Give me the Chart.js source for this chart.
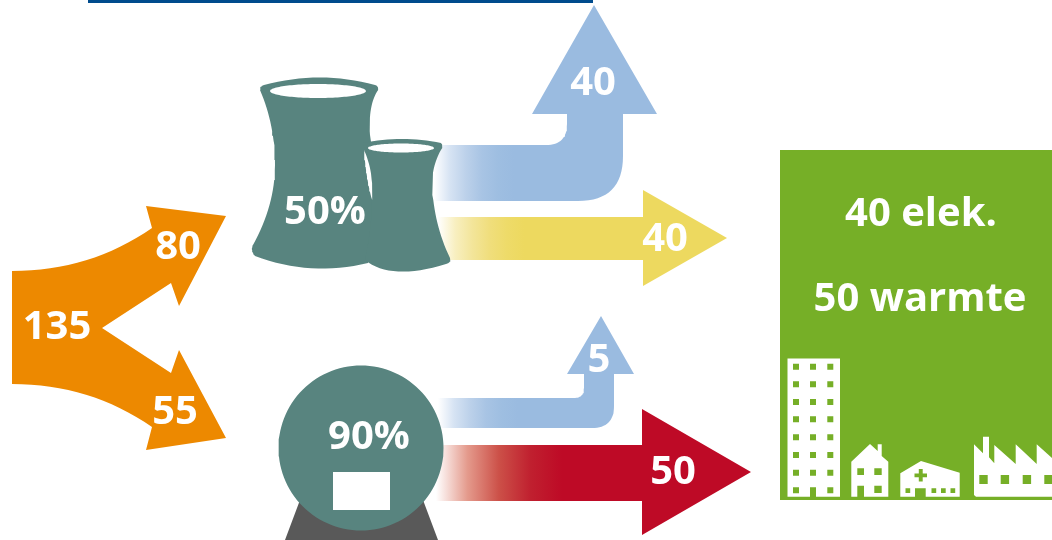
<!DOCTYPE html>
<html>
<head>
<meta charset="utf-8">
<style>
  html, body { margin: 0; background: #fff; }
  canvas { display: block; }
</style>
<script src="https://cdn.jsdelivr.net/npm/chart.js@4"></script>
</head>
<body>
<canvas id="flowChart" width="1052" height="540"></canvas>
<script>
// Energy flows, in units
const fuelTotal = [135];
const fuelSplit = [80, 55];
const plantEfficiency = [50, 90];
const plantOutput = [40, 40];
const boilerOutput = [5, 50];
const deliveredValues = [40, 50];
const deliveredNames = ['elek.', 'warmte'];

const ORANGE = '#ED8900';
const TEAL = '#58847F';
const BLUE = '#9ABBE0';
const YELLOW = '#EDD95F';
const RED = '#BE0A26';
const GREEN = '#76AF27';
const NAVY = '#004B8D';
const WHITE = '#FFFFFF';

const ctx = document.getElementById('flowChart').getContext('2d');

function fade(x0, x1, stops) {
    const g = ctx.createLinearGradient(x0, 0, x1, 0);
    stops.forEach((c, i) => g.addColorStop(i / (stops.length - 1), c));
    return g;
}

// A path step is [x, y] for a straight piece or [cx, cy, x, y] for a quadratic curve
function path(...steps) {
    const pts = [];
    steps.forEach(s => {
        if (s.length === 2) {
            pts.push({x: s[0], y: s[1]});
            return;
        }
        const p = pts[pts.length - 1];
        for (let i = 1; i <= 16; i++) {
            const t = i / 16, u = 1 - t;
            pts.push({
                x: u * u * p.x + 2 * u * t * s[0] + t * t * s[2],
                y: u * u * p.y + 2 * u * t * s[1] + t * t * s[3]
            });
        }
    });
    return pts;
}

function ellipse(cx, cy, rx, ry) {
    const pts = [];
    for (let i = 0; i < 120; i++) {
        const a = i / 120 * Math.PI * 2;
        pts.push({x: cx + rx * Math.cos(a), y: cy + ry * Math.sin(a)});
    }
    return pts;
}

function rect(x0, y0, x1, y1) {
    return path([x0, y0], [x1, y0], [x1, y1], [x0, y1]);
}

function arrowRight(left, top, bottom, neck, headTop, headBottom, tip) {
    return path([left, top], [neck, top], [neck, headTop], [tip, (headTop + headBottom) / 2],
        [neck, headBottom], [neck, bottom], [left, bottom]);
}

function elbowUp(o) {
    return path([o.left, o.top], [o.inner - o.rIn, o.top], [o.inner, o.top, o.inner, o.top - o.rIn],
        [o.inner, o.headY], [o.headL, o.headY], [o.tipX, o.tipY], [o.headR, o.headY],
        [o.outer, o.headY], [o.outer, o.bottom - o.rOut], [o.outer, o.bottom, o.outer - o.rOut, o.bottom],
        [o.left, o.bottom]);
}

// Everything is a filled line dataset; later entries sit on top of earlier ones
const shapes = [];
function add(points, color) {
    shapes.push({
        data: points,
        backgroundColor: color,
        borderWidth: 0,
        pointRadius: 0,
        tension: 0,
        fill: 'shape'
    });
}

// Rule along the top edge
add(rect(88, 0, 593, 3), NAVY);

// Fuel arrow splitting in two
add(path([12, 271], [90, 271, 152, 228], [146, 206], [226, 216], [179, 306], [171, 283], [102, 328],
    [171, 373], [179, 350], [226, 438], [146, 450], [152, 427], [90, 384, 12, 384]), ORANGE);

// Output arrows of the plant
const blueFade = x0 => fade(x0, x0 + 80, ['#FFFFFF', '#D6E3F3', '#BCD1EA', '#A8C4E4', '#9EBEE1', BLUE]);
add(elbowUp({left: 432, top: 145, bottom: 201, inner: 567, outer: 623, headY: 114, headL: 532, headR: 657,
    tipX: 594, tipY: 5, rIn: 21, rOut: 45}), blueFade(434));
add(arrowRight(436, 217, 260, 643, 190, 286, 727),
    fade(438, 524, ['#FFFFFF', '#F8EFC0', '#F3E59A', '#F0DE7C', '#EEDB69', YELLOW]));

// Output arrows of the boiler
add(elbowUp({left: 436, top: 398, bottom: 428, inner: 584, outer: 614, headY: 374, headL: 567, headR: 634,
    tipX: 601, tipY: 316, rIn: 10, rOut: 22}), blueFade(438));
add(arrowRight(434, 445, 501, 642, 409, 535, 751), fade(436, 562, ['#FFFFFF', '#E49A8C', '#CC5048', '#C0202F', RED]));

// Cooling towers
add(path([260, 90], [260, 86, 264, 85], [320, 70, 375, 85], [379, 86, 378, 90], [368, 105, 370, 135],
    [380, 200, 368, 263], [311, 277, 255, 256], [250, 250, 253, 245], [275, 205, 275, 165], [275, 125, 260, 90]), TEAL);
add(path([363, 143], [402, 135, 441, 143], [443, 144, 442, 148], [432, 165, 432, 185], [434, 225, 450, 258],
    [452, 262, 446, 264], [391, 281, 365, 260], [372, 225, 372, 200], [372, 175, 363, 143]), TEAL);
add(path([364, 150], [374, 172, 372, 200], [366, 178, 364, 150]), WHITE);
add(ellipse(318, 91, 48, 7), WHITE);
add(ellipse(401, 148, 33, 4.5), WHITE);

// Boiler on its stand
add(path([300, 500], [423, 500], [438, 540], [285, 540]), '#595959');
add(ellipse(361, 448, 82.5, 82.5), TEAL);
add(rect(333, 472, 390, 510), WHITE);

// Consumer panel
add(rect(780, 150, 1052, 500), GREEN);

// Apartment block
add(rect(787.5, 358.5, 840, 496.7), WHITE);
[366.7, 384.3, 402, 419.3, 437.3, 455, 472.7, 490.3].forEach(wy => {
    [796, 813, 830.3].forEach(wx => add(rect(wx - 3, wy - 3, wx + 3, wy + 3), GREEN));
});
add(rect(810, 488, 816, 497), GREEN);

// House
add(path([851.3, 461.7], [870, 444], [877.7, 451], [877.7, 444.3], [881.7, 444.3], [881.7, 456],
    [888.3, 461.7], [888.3, 496.7], [851.3, 496.7]), WHITE);
add(rect(857.3, 468.3, 864, 475), GREEN);
add(rect(874.3, 468.3, 881.7, 475), GREEN);
add(rect(874.3, 485.7, 881.7, 493), GREEN);
add(rect(857.3, 485.7, 864, 497), GREEN);

// Clinic
add(path([900.3, 473.3], [921, 461], [959.7, 472.7], [959.7, 496.7], [900.3, 496.7]), WHITE);
add(rect(914.5, 473.5, 927, 477.2), GREEN);
add(rect(918.8, 469, 922.7, 481.5), GREEN);
[905.5, 931.5, 941, 950.5].forEach(wx => add(rect(wx, 488.3, wx + 4.7, 493), GREEN));
add(rect(915, 488.3, 925.7, 497), GREEN);

// Factory
add(path([974, 444.3], [983, 453.3], [983, 436.7], [989, 436.7], [989, 457.3], [994.3, 463.3], [994.3, 445],
    [1015.7, 464], [1015.7, 444.3], [1036.7, 464], [1036.7, 444.3], [1052, 458], [1052, 496.7], [976, 496.7],
    [974, 495]), WHITE);
[979.3, 1000.7, 1022.7, 1044.3].forEach(wx => add(rect(wx, 475, Math.min(wx + 8.4, 1052), 484), GREEN));

// Where each figure sits, same order as the strings built below
const textSpots = [
    [57, 328], [178, 248], [175, 413], [325, 213], [369, 438],
    [593, 84], [665, 240], [599, 361], [673, 473], [921, 215], [920, 300]
];
const texts = [
    String(fuelTotal[0]),
    ...fuelSplit.map(String),
    ...plantEfficiency.map(v => v + '%'),
    ...plantOutput.map(String),
    ...boilerOutput.map(String),
    ...deliveredValues.map((v, i) => v + ' ' + deliveredNames[i])
];

const flowLabels = {
    id: 'flowLabels',
    afterDatasetsDraw(chart) {
        const {ctx: c, scales: {x, y}} = chart;
        c.save();
        c.fillStyle = WHITE;
        c.textAlign = 'center';
        c.textBaseline = 'middle';
        c.font = 'bold 40px "Open Sans"';
        texts.forEach((t, i) => {
            c.fillText(t, x.getPixelForValue(textSpots[i][0]), y.getPixelForValue(textSpots[i][1]));
        });
        c.restore();
    }
};

new Chart(ctx, {
    type: 'line',
    data: {datasets: shapes.slice().reverse()},
    options: {
        responsive: false,
        animation: false,
        layout: {padding: 0},
        events: [],
        plugins: {legend: {display: false}, tooltip: {enabled: false}},
        scales: {
            x: {type: 'linear', display: false, min: 0, max: 1052},
            y: {type: 'linear', display: false, min: 0, max: 540, reverse: true}
        }
    },
    plugins: [flowLabels]
});
</script>
</body>
</html>
